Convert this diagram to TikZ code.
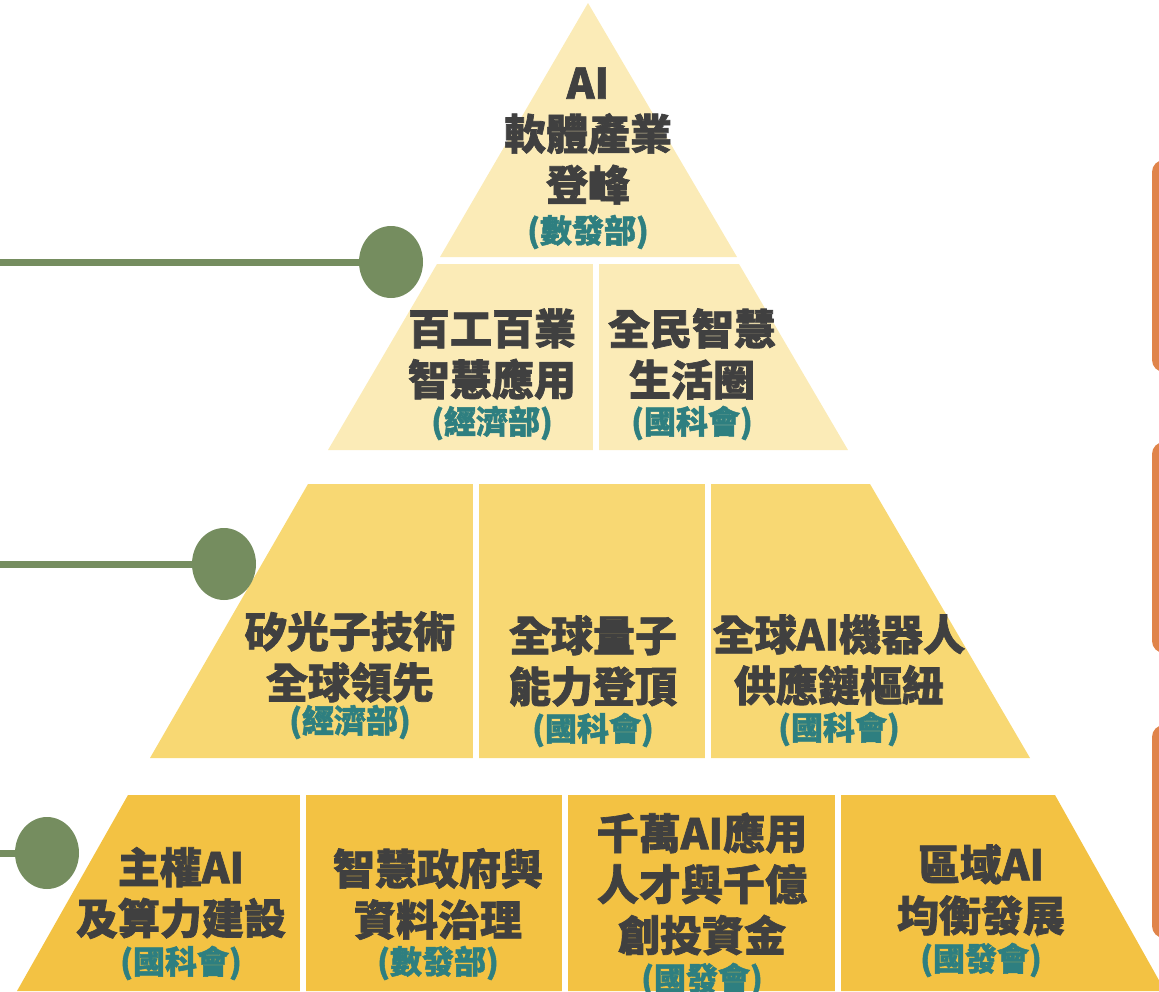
\documentclass[tikz,border=0pt]{standalone}
\usepackage{fontspec}
\newfontfamily\cjk{Noto Sans CJK TC}[BoldFeatures={FakeBold=1.6}]
\usetikzlibrary{shapes.geometric}
\definecolor{tierA}{HTML}{FBEBB7}
\definecolor{tierB}{HTML}{F8D873}
\definecolor{tierC}{HTML}{F3C243}
\definecolor{dot}{HTML}{758D5F}
\definecolor{tab}{HTML}{E0844A}
\definecolor{ink}{HTML}{404040}
\definecolor{agency}{HTML}{2E7F80}
\begin{document}
\begin{tikzpicture}[x=1pt,y=-1pt,
  maintext/.style={font=\cjk\bfseries\fontsize{42}{51}\selectfont, text=ink, align=center, inner sep=0pt},
  agencytext/.style={font=\cjk\bfseries\fontsize{32}{36}\selectfont, text=agency, inner sep=0pt},
  dotnode/.style={ellipse, fill=dot, minimum width=64pt, minimum height=72pt, inner sep=0pt},
  stem/.style={draw=dot, line width=7pt},
  gap/.style={draw=white, line width=6pt},
  tabbox/.style={fill=tab, rounded corners=12pt}]
\useasboundingbox (0,0) rectangle (1159,991);
\clip (0,0) rectangle (1159,991);
% tiers
\fill[tierA] (588,3) -- (737,257) -- (440,257) -- cycle;
\fill[tierA] (437,264) -- (739,264) -- (848,450) -- (328,450) -- cycle;
\fill[tierB] (308,484) -- (870,484) -- (1030,758) -- (150,758) -- cycle;
\fill[tierC] (128,795) -- (1055,795) -- (1165,991) -- (17,991) -- cycle;
% dividers
\draw[gap] (596,260) -- (596,454);
\draw[gap] (476,480) -- (476,762);
\draw[gap] (708,480) -- (708,762);
\draw[gap] (303,791) -- (303,995);
\draw[gap] (565,791) -- (565,995);
\draw[gap] (838,791) -- (838,995);
% right tabs
\fill[tabbox] (1152,160) rectangle (1190,372);
\fill[tabbox] (1152,442) rectangle (1190,653);
\fill[tabbox] (1152,725) rectangle (1190,938);
% markers
\node[dotnode] (d1) at (391,262) {};
\node[dotnode] (d2) at (224,564) {};
\node[dotnode] (d3) at (47,853) {};
\coordinate (s1) at (-5,262);
\coordinate (s2) at (-5,564);
\coordinate (s3) at (-5,853);
\draw[stem] (s1) -- (d1);
\draw[stem] (s2) -- (d2);
\draw[stem] (s3) -- (d3);
% texts
\node[maintext] (t0) at (588,136) {AI\\軟體產業\\登峰};
\node[agencytext] (a0) at (588,232) {(數發部)};
\node[maintext] (t1) at (492,354) {百工百業\\智慧應用};
\node[agencytext] (a1) at (492,423) {(經濟部)};
\node[maintext] (t2) at (692,354) {全民智慧\\生活圈};
\node[agencytext] (a2) at (692,423) {(國科會)};
\node[maintext] (t3) at (350,657) {矽光子技術\\全球領先};
\node[agencytext] (a3) at (350,722) {(經濟部)};
\node[maintext] (t4) at (593,661) {全球量子\\能力登頂};
\node[agencytext] (a4) at (593,730) {(國科會)};
\node[maintext] (t5) at (839,660) {全球AI機器人\\供應鏈樞紐};
\node[agencytext] (a5) at (839,729) {(國科會)};
\node[maintext] (t6) at (181,893) {主權AI\\及算力建設};
\node[agencytext] (a6) at (181,963) {(國科會)};
\node[maintext] (t7) at (438,894) {智慧政府與\\資料治理};
\node[agencytext] (a7) at (438,963) {(數發部)};
\node[maintext] (t8) at (702,884) {千萬AI應用\\人才與千億\\創投資金};
\node[agencytext] (a8) at (702,980) {(國發會)};
\node[maintext] (t9) at (981,890) {區域AI\\均衡發展};
\node[agencytext] (a9) at (981,960) {(國發會)};
\end{tikzpicture}
\end{document}
